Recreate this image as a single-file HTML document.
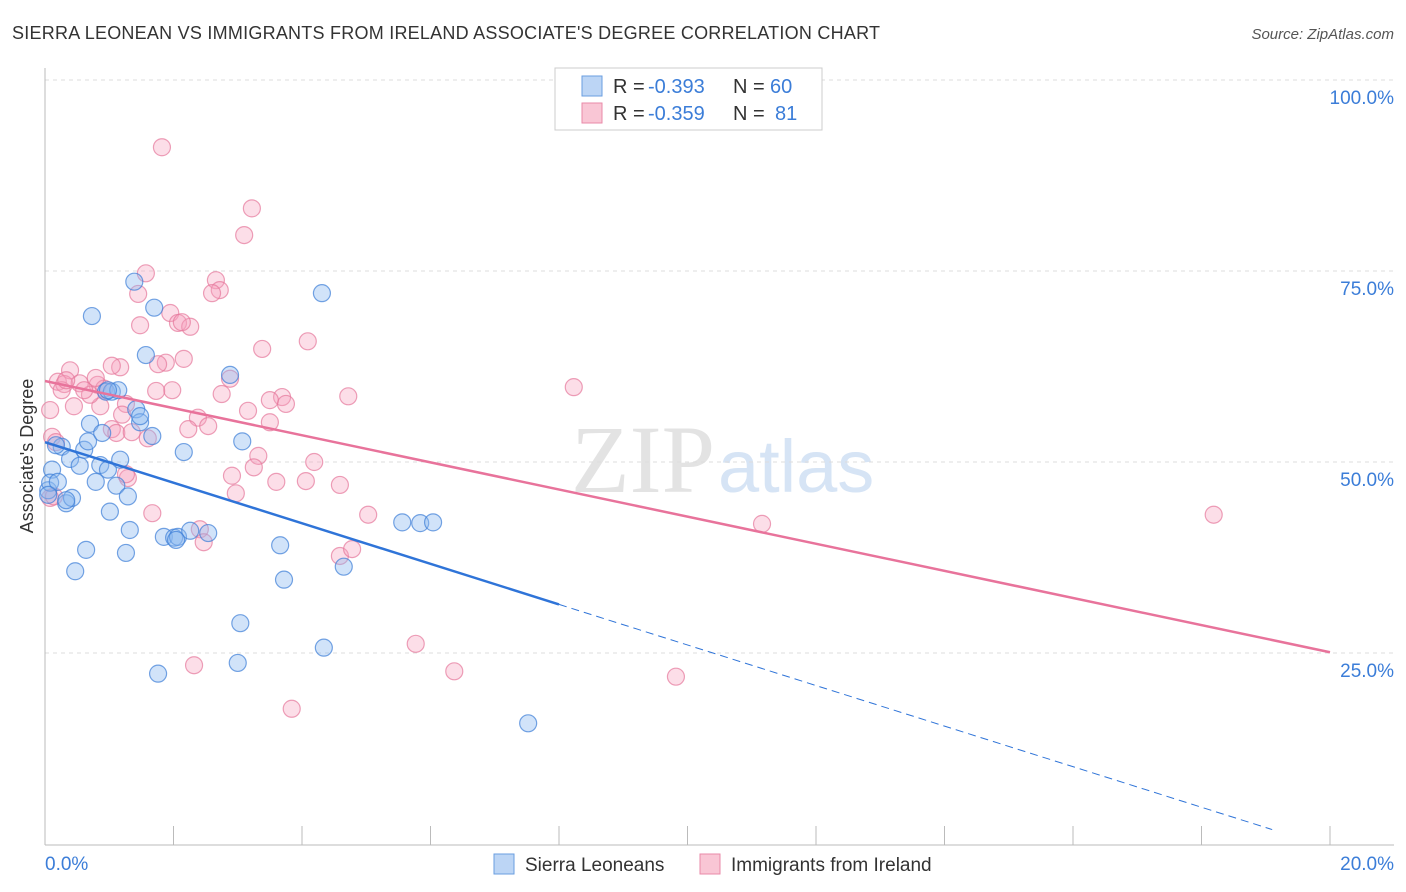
<!DOCTYPE html>
<html><head><meta charset="utf-8"><style>
body{margin:0;background:#fff;font-family:"Liberation Sans",sans-serif}
svg{display:block}
</style></head><body>
<svg id="c" width="1406" height="892" xmlns="http://www.w3.org/2000/svg">
<text x="12" y="39" font-size="18" fill="#333" textLength="868">SIERRA LEONEAN VS IMMIGRANTS FROM IRELAND ASSOCIATE'S DEGREE CORRELATION CHART</text>
<text x="1394" y="39" font-size="15" fill="#555" font-style="italic" text-anchor="end">Source: ZipAtlas.com</text>
<text x="715" y="492" font-size="96" fill="#e3e3e3" font-family="Liberation Serif" text-anchor="end">ZIP</text>
<text x="718" y="492" font-size="74" fill="#d6e4f5" text-anchor="start">atlas</text>
<g id="grid"></g>
<g id="axes"></g>
<g id="pts"></g>
<g id="trend"></g>
<text x="33" y="456" font-size="18" fill="#333" text-anchor="middle" transform="rotate(-90 33 456)">Associate's Degree</text>
<text x="45" y="870" font-size="19" fill="#3b7dd8">0.0%</text>
<text x="1394" y="870" font-size="19" fill="#3b7dd8" text-anchor="end">20.0%</text>
<g>
<rect x="555" y="68" width="267" height="62" fill="#fff" stroke="#ccc"/>
<rect x="582" y="76" width="20" height="20" fill="#bcd5f5" stroke="#6a9ee0"/>
<rect x="582" y="103" width="20" height="20" fill="#f9c6d5" stroke="#e98aa8"/>
<text x="613" y="93" font-size="20" fill="#333">R =</text>
<text x="648" y="93" font-size="20" fill="#3b7dd8">-0.393</text>
<text x="733" y="93" font-size="20" fill="#333">N =</text>
<text x="770" y="93" font-size="20" fill="#3b7dd8">60</text>
<text x="613" y="120" font-size="20" fill="#333">R =</text>
<text x="648" y="120" font-size="20" fill="#3b7dd8">-0.359</text>
<text x="733" y="120" font-size="20" fill="#333">N =</text>
<text x="775" y="120" font-size="20" fill="#3b7dd8">81</text>
</g>
<g>
<rect x="494" y="854" width="20" height="20" fill="#bcd5f5" stroke="#6a9ee0"/>
<text x="525" y="871" font-size="19" fill="#333">Sierra Leoneans</text>
<rect x="700" y="854" width="20" height="20" fill="#f9c6d5" stroke="#e98aa8"/>
<text x="731" y="871" font-size="19" fill="#333">Immigrants from Ireland</text>
</g>
</svg>
<script>
const yTicks=[25,50,75,100];
const yTickLabels=["25.0%","50.0%","75.0%","100.0%"];
const xTicks=[0,2,4,6,8,10,12,14,16,18,20];
const bluePx=[[52,470],[48,490],[50,483],[58,482],[62,447],[66,503],[70,459],[72,498],[75,571],[80,466],[84,450],[86,550],[88,441],[90,424],[92,316],[96,482],[100,465],[102,433],[106,392],[108,470],[110,512],[112,392],[116,486],[126,553],[128,496],[130,530],[134,282],[136,409],[140,422],[140,416],[146,355],[152,436],[154,308],[158,674],[164,537],[174,538],[178,537],[184,452],[190,531],[208,533],[230,375],[240,623],[238,663],[242,441],[280,545],[284,580],[322,293],[324,648],[344,567],[402,522],[420,523],[433,522],[528,723],[118,390],[48,495],[56,445],[66,500],[120,460],[176,540],[108,390]];
const pinkPx=[[162,147],[252,208],[244,235],[146,273],[138,294],[216,280],[220,290],[212,293],[170,313],[178,323],[190,327],[140,325],[182,322],[308,341],[262,349],[70,370],[120,367],[184,359],[166,363],[158,364],[230,379],[58,382],[64,384],[80,383],[98,385],[104,389],[172,390],[156,391],[222,394],[282,397],[286,404],[348,396],[574,387],[50,410],[74,406],[100,406],[126,404],[248,411],[198,418],[208,426],[270,422],[188,429],[112,429],[116,433],[132,432],[148,438],[52,437],[56,442],[258,456],[314,462],[254,467],[232,476],[276,482],[306,481],[340,485],[236,493],[128,478],[126,474],[152,513],[368,515],[200,529],[204,542],[340,556],[352,549],[762,524],[1214,515],[416,644],[454,671],[194,665],[676,677],[292,709],[50,498],[54,496],[62,390],[90,395],[96,378],[66,380],[84,390],[270,400],[112,366],[122,415]];
const blueX=bluePx.map(p=>+((p[0]-45)/1285*20).toFixed(2));
const blueY=bluePx.map(p=>+((844-p[1])/764*100).toFixed(1));
const pinkX=pinkPx.map(p=>+((p[0]-45)/1285*20).toFixed(2));
const pinkY=pinkPx.map(p=>+((844-p[1])/764*100).toFixed(1));
const blueTrend=[52.6,-0.5];
const pinkTrend=[60.6,25.1];
const blueSolidEnd=8;
const X=v=>45+v/20*1285, Y=v=>844-v/100*764;
const NS="http://www.w3.org/2000/svg";
function mk(tag,attrs,parent){const e=document.createElementNS(NS,tag);for(const k in attrs)e.setAttribute(k,attrs[k]);parent.appendChild(e);return e;}
const grid=document.getElementById('grid'),axes=document.getElementById('axes');
yTicks.forEach((t,i)=>{
 const l=mk('line',{x1:45,x2:1394,y1:Y(t),y2:Y(t),stroke:'#ddd','stroke-dasharray':'4,4'},grid);
 
 
 const tx=mk('text',{x:1394,y:Y(t)+24,'font-size':19,fill:'#3b7dd8','text-anchor':'end'},axes);
 tx.textContent=yTickLabels[i];
 
 
});
const ax=mk('line',{x1:45,x2:45,y1:68,y2:845,stroke:'#bbb'},axes);


const bx=mk('line',{x1:45,x2:1394,y1:845,y2:845,stroke:'#bbb'},axes);


xTicks.forEach(t=>{
 const l=mk('line',{x1:X(t),x2:X(t),y1:826,y2:845,stroke:'#bbb'},axes);
 
 
});
const pts=document.getElementById('pts');
pinkX.forEach((x,i)=>{
 const c=mk('circle',{cx:X(x),cy:Y(pinkY[i]),r:8.5,fill:'rgba(245,160,190,0.35)',stroke:'rgba(230,120,155,0.7)','stroke-width':1.2},pts);
 
 
});
blueX.forEach((x,i)=>{
 const c=mk('circle',{cx:X(x),cy:Y(blueY[i]),r:8.5,fill:'rgba(140,185,240,0.4)',stroke:'rgba(60,125,215,0.7)','stroke-width':1.2},pts);
 
 
});
const tr=document.getElementById('trend');
const by=x=>blueTrend[0]+(blueTrend[1]-blueTrend[0])*x/20;
const py=x=>pinkTrend[0]+(pinkTrend[1]-pinkTrend[0])*x/20;
let l=mk('line',{x1:X(0),y1:Y(py(0)),x2:X(20),y2:Y(py(20)),stroke:'#e8739b','stroke-width':2.5},tr);


l=mk('line',{x1:X(0),y1:Y(by(0)),x2:X(blueSolidEnd),y2:Y(by(blueSolidEnd)),stroke:'#2f74d8','stroke-width':2.5},tr);


l=mk('line',{x1:X(blueSolidEnd),y1:Y(by(blueSolidEnd)),x2:X(19.1),y2:Y(by(19.1)),stroke:'#2f74d8','stroke-width':1,'stroke-dasharray':'8,5'},tr);


</script>
</body></html>
